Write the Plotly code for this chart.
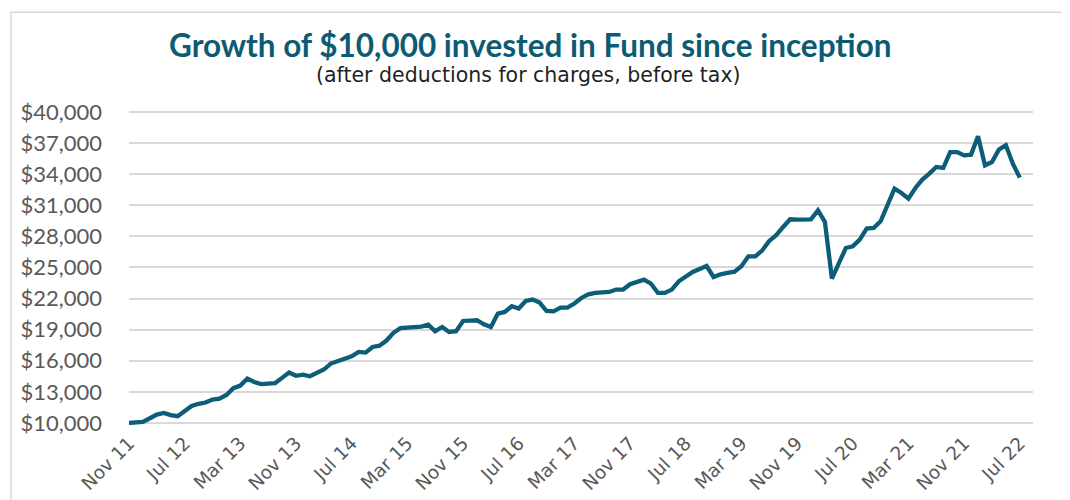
import pandas as pd
import plotly.graph_objects as go

# Month labels Nov 2011 .. Jul 2022 (129 monthly points)
months = pd.date_range("2011-11-01", "2022-07-01", freq="MS").strftime("%b %y").tolist()

# Fund value ($)
values = [
    10000, 10030, 10100, 10450, 10800, 10960, 10750, 10650, 11100, 11640,
    11850, 11970, 12260, 12350, 12700, 13350, 13600, 14280, 13950, 13750,
    13800, 13850, 14350, 14860, 14550, 14650, 14500, 14850, 15150, 15730,
    15950, 16140, 16430, 16850, 16790, 17330, 17450, 17950, 18700, 19150,
    19200, 19180, 19300, 19490, 18850, 19260, 18780, 18850, 19840, 19880,
    19910, 19520, 19260, 20550, 20710, 21260, 21040, 21770, 21900, 21610,
    20800, 20770, 21130, 21130, 21520, 22060, 22410, 22550, 22640, 22640,
    22870, 22870, 23380, 23600, 23830, 23450, 22540, 22540, 22870, 23670,
    24150, 24570, 24850, 25140, 24080, 24340, 24470, 24600, 25120, 26080,
    26080, 26660, 27560, 28110, 28910, 29650, 29620, 29640, 29650, 30520,
    29390, 23930, 25530, 26880, 27040, 27690, 28750, 28810, 29460, 31000,
    32610, 32190, 31650, 32670, 33480, 34060, 34700, 34600, 36140, 36140,
    35820, 35890, 37660, 34860, 35180, 36370, 36790, 35020, 33670,
]

tick_labels = ["Nov 11", "Jul 12", "Mar 13", "Nov 13", "Jul 14", "Mar 15", "Nov 15",
               "Jul 16", "Mar 17", "Nov 17", "Jul 18", "Mar 19", "Nov 19", "Jul 20",
               "Mar 21", "Nov 21", "Jul 22"]
y_ticks = list(range(10000, 40001, 3000))

title_text = "Growth of $10,000 invested in Fund since inception"
subtitle_text = "(after deductions for charges, before tax)"

LINE = "#0b5d78"
GRAY = "#595959"

fig = go.Figure()
fig.add_trace(go.Scatter(
    x=months, y=values, mode="lines",
    line=dict(color=LINE, width=4.3, shape="linear"),
    hoverinfo="x+y", showlegend=False,
))

fig.update_layout(
    width=1070, height=500,
    margin=dict(l=119, r=45, t=102.66, b=83.24, pad=0),
    paper_bgcolor="white", plot_bgcolor="white",
    font=dict(family="Lato, 'Open Sans', sans-serif", color=GRAY),
    xaxis=dict(
        type="category", range=[0, 129.9],
        tickmode="array", tickvals=tick_labels, ticktext=tick_labels,
        tickangle=-45, tickfont=dict(size=18.5, color=GRAY, family="'DejaVu Sans', sans-serif"),
        showgrid=False, showline=False, zeroline=False, ticks="",
        ticklabelstandoff=3,
    ),
    yaxis=dict(
        range=[9800, 40100], tickvals=y_ticks,
        tickformat="$,.0f", tickfont=dict(size=22, color=GRAY),
        showgrid=True, gridcolor="#d9d9d9", gridwidth=1.5,
        showline=False, zeroline=False, ticks="",
        ticklabelstandoff=26,
    ),
    shapes=[dict(type="rect", xref="paper", yref="paper",
                 x0=-0.1305, x1=1.0353, y0=-0.35, y1=1.3142,
                 line=dict(color="#d9d9d9", width=1.5), layer="below")],
    annotations=[
        dict(text="<b>" + title_text + "</b>", xref="paper", yref="paper",
             x=0.4437, y=1.209, showarrow=False, xanchor="center", yanchor="middle",
             font=dict(size=31.5, color="#0d5b73", family="Lato, 'Open Sans', sans-serif")),
        dict(text=subtitle_text, xref="paper", yref="paper",
             x=0.442, y=1.1134, showarrow=False, xanchor="center", yanchor="middle",
             font=dict(size=20.5, color="#1f1f1f", family="'DejaVu Sans', sans-serif")),
    ],
)

fig.write_html("out.html")
